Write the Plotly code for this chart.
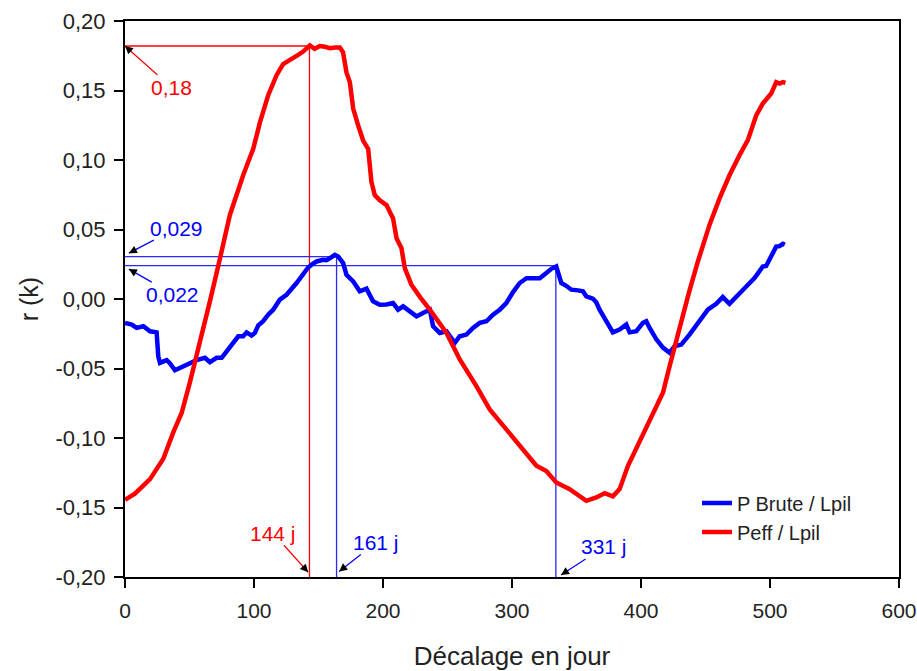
import plotly.graph_objects as go

# ---------------- data ----------------
peff_x = [0, 7.7, 19.4, 29.7, 37.4, 43.9, 50.3, 55.5, 62, 66, 73.6, 81.3, 91.6, 99.4, 104.6,
          111, 117.5, 122.6, 126, 130.4, 134, 138.1, 141, 143.3, 147, 151, 155, 158.8, 163,
          166.5, 169, 171.7, 174.3, 176.9, 180.7, 184.6, 188.5, 191, 193.6, 197.5, 202.7,
          207.8, 210.5, 214.3, 216.9, 222, 229, 236.3, 249.2, 259.5, 272.4, 282.7, 295.6,
          306, 318.9, 326.6, 334.3, 344.7, 351, 357.6, 365.4, 371.8, 378.2, 383.4, 389.9,
          398.9, 406.7, 417, 422.2, 427.4, 432.5, 437, 444.1, 453.1, 460.9, 468.6, 476.4,
          482.8, 489.3, 494.4, 500.9, 504.8, 507.4, 510, 512]
peff_y = [-0.1445, -0.140, -0.1296, -0.115, -0.096, -0.082, -0.060, -0.041, -0.017, -0.001,
          0.029, 0.0605, 0.089, 0.108, 0.127, 0.1466, 0.161, 0.169, 0.171, 0.173, 0.1755,
          0.178, 0.1805, 0.1824, 0.180, 0.182, 0.1815, 0.1805, 0.181, 0.181, 0.1776, 0.163,
          0.156, 0.137, 0.125, 0.114, 0.108, 0.0844, 0.0748, 0.071, 0.0676, 0.058, 0.0437,
          0.0366, 0.0222, 0.0103, 0.001, -0.0077, -0.0244, -0.0435, -0.0627, -0.0794,
          -0.0938, -0.1057, -0.120, -0.1237, -0.132, -0.1368, -0.141, -0.1452, -0.1428,
          -0.1397, -0.142, -0.1368, -0.120, -0.103, -0.0866, -0.0674, -0.0483, -0.029,
          -0.010, 0.004, 0.027, 0.0533, 0.0724, 0.089, 0.1035, 0.1143, 0.132, 0.1406,
          0.1478, 0.156, 0.155, 0.156, 0.1555]

pbrute_x = [0, 5.2, 9, 14.2, 19.4, 24.5, 25.8, 27.1, 32.3, 34.6, 38.7, 42.6, 47.8, 55.5, 62,
            65.8, 71, 74.9, 78.8, 83.9, 87.8, 91.6, 94.3, 98.1, 100.7, 103.3, 107.1, 111,
            114.9, 120, 125.2, 133, 141.8, 145, 148.5, 153.6, 156.2, 159, 162.7, 165.2,
            169.1, 171.7, 176.9, 182, 187.2, 192.3, 197.5, 202.7, 207.8, 211.7, 215.6,
            220.8, 226, 231, 236.3, 238.8, 244, 249.2, 251.8, 255.6, 259.5, 264.7, 269.8,
            275, 280.2, 285.3, 290.5, 295.6, 300.8, 306, 311.2, 316.3, 321.5, 326.6, 330.5,
            334.3, 336.9, 338.2, 342, 346, 351.3, 355, 357.6, 362.7, 365.3, 367.9, 373.1,
            378.2, 383.4, 388.6, 391.2, 396.4, 401.5, 404.1, 406.7, 411.9, 417, 422.2, 426,
            431.2, 437.6, 445.4, 451.8, 458.3, 463.4, 468.6, 473.8, 481.6, 488, 494.4, 497,
            500.9, 504.8, 507.4, 510, 511.5]
pbrute_y = [-0.0172, -0.0184, -0.0208, -0.0196, -0.0232, -0.024, -0.0412, -0.046, -0.044,
            -0.046, -0.0512, -0.0495, -0.047, -0.044, -0.0423, -0.0455, -0.0423, -0.0423,
            -0.0376, -0.0316, -0.0268, -0.0268, -0.024, -0.0263, -0.0244, -0.019, -0.016,
            -0.0113, -0.0077, -0.0005, 0.0030, 0.0115, 0.0225, 0.025, 0.027, 0.0282, 0.028,
            0.0295, 0.0318, 0.0306, 0.0258, 0.0174, 0.0126, 0.0055, 0.0074, -0.0017, -0.0041,
            -0.004, -0.0029, -0.0077, -0.0053, -0.0089, -0.0125, -0.010, -0.0077, -0.0196,
            -0.0244, -0.0232, -0.0268, -0.0316, -0.0268, -0.0256, -0.0208, -0.0172, -0.016,
            -0.0113, -0.0077, -0.0029, 0.0050, 0.0115, 0.015, 0.0148, 0.015, 0.0187, 0.0217,
            0.0234, 0.015, 0.0115, 0.0095, 0.0067, 0.0062, 0.0055, 0.0019, 0.0003, -0.0024,
            -0.0077, -0.016, -0.024, -0.022, -0.0184, -0.024, -0.0232, -0.0172, -0.016,
            -0.0208, -0.029, -0.035, -0.0387, -0.034, -0.0328, -0.0256, -0.016, -0.0077,
            -0.0034, 0.0014, -0.0034, 0.0019, 0.009, 0.015, 0.0234, 0.0238, 0.0306, 0.0377,
            0.038, 0.0397, 0.039]

series_names = ["P Brute / Lpil", "Peff / Lpil"]

# reference lines (lag of the maxima and corresponding r values)
lag_days = [143, 164, 334]
peak_vals = [0.182, 0.0305, 0.024]
ref_colors = ["#ff0000", "#2a2aff", "#2a2aff"]
lag_labels = ["144 j", "161 j", "331 j"]
val_labels = ["0,18", "0,029", "0,022"]

x_ticks = [0, 100, 200, 300, 400, 500, 600]
y_ticks = [-0.20, -0.15, -0.10, -0.05, 0.00, 0.05, 0.10, 0.15, 0.20]
y_tick_labels = ["-0,20", "-0,15", "-0,10", "-0,05", "0,00", "0,05", "0,10", "0,15", "0,20"]

x_title = "Décalage en jour"
y_title = "r (k)"

# ---------------- figure ----------------
FONT = "Arial, 'Liberation Sans', sans-serif"
fig = go.Figure()

Y0 = y_ticks[0]
for lag, val, col in zip(lag_days, peak_vals, ref_colors):
    fig.add_trace(go.Scatter(x=[0, lag, lag], y=[val, val, Y0], mode="lines",
                             line=dict(color=col, width=1.3), showlegend=False,
                             hoverinfo="skip"))

fig.add_trace(go.Scatter(x=pbrute_x, y=pbrute_y, mode="lines", name=series_names[0],
                         line=dict(color="#0000ff", width=4.5)))
fig.add_trace(go.Scatter(x=peff_x, y=peff_y, mode="lines", name=series_names[1],
                         line=dict(color="#ff0000", width=4.5)))

# annotations: (text, color, tip x, tip y, ax, ay)
ann_specs = [
    (val_labels[0], "#ff0000", 0, peak_vals[0], 46, 41),
    (val_labels[1], "#0000ff", 3, 0.033, 48, -25),
    (val_labels[2], "#0000ff", 3, 0.0215, 44, 25),
    (lag_labels[0], "#ff0000", 142, -0.1966, -35, -39),
    (lag_labels[1], "#0000ff", 166, -0.196, 37, -29),
    (lag_labels[2], "#0000ff", 338, -0.1985, 43, -28),
]
for text, col, tx, ty, ax, ay in ann_specs:
    fig.add_annotation(x=tx, y=ty, xref="x", yref="y", text=text, showarrow=True,
                       ax=ax, ay=ay, axref="pixel", ayref="pixel",
                       arrowhead=0, arrowwidth=1.2, arrowcolor=col,
                       font=dict(family=FONT, size=21, color=col), borderpad=0)
    norm = (ax ** 2 + ay ** 2) ** 0.5
    fig.add_annotation(x=tx, y=ty, xref="x", yref="y", text=" ", showarrow=True,
                       ax=ax / norm * 9, ay=ay / norm * 9, axref="pixel", ayref="pixel",
                       arrowhead=2, arrowsize=1.6, arrowwidth=1, arrowcolor="black",
                       font=dict(size=1), borderpad=0)

axis_common = dict(showline=True, linecolor="black", linewidth=2, mirror=True,
                   ticks="outside", ticklen=9, tickwidth=2, tickcolor="black",
                   showgrid=False, zeroline=False, automargin=False)

fig.update_xaxes(range=[0, 600], tickvals=x_ticks, ticklabelstandoff=5,
                 tickfont=dict(family=FONT, size=21, color="#222"),
                 title=dict(text=x_title, font=dict(family=FONT, size=26, color="#222"),
                            standoff=28),
                 **axis_common)
fig.update_yaxes(range=[-0.2, 0.2], tickvals=y_ticks, ticktext=y_tick_labels,
                 ticklabelstandoff=4,
                 tickfont=dict(family=FONT, size=22, color="#222"),
                 title=dict(text=y_title, font=dict(family=FONT, size=25, color="#222"),
                            standoff=10),
                 **axis_common)

fig.update_layout(
    width=917, height=671,
    margin=dict(l=125, r=18, t=21, b=94),
    paper_bgcolor="white", plot_bgcolor="white",
    font=dict(family=FONT, color="#222"),
    hovermode=False,
    legend=dict(x=0.739, y=0.168, xanchor="left", yanchor="top",
                bgcolor="rgba(0,0,0,0)", font=dict(family=FONT, size=20, color="#222"),
                tracegroupgap=0),
)

fig.write_html("out.html", config={"displayModeBar": False},
               post_script="document.body.style.margin='0';"
                           "document.body.style.overflow='hidden';")
